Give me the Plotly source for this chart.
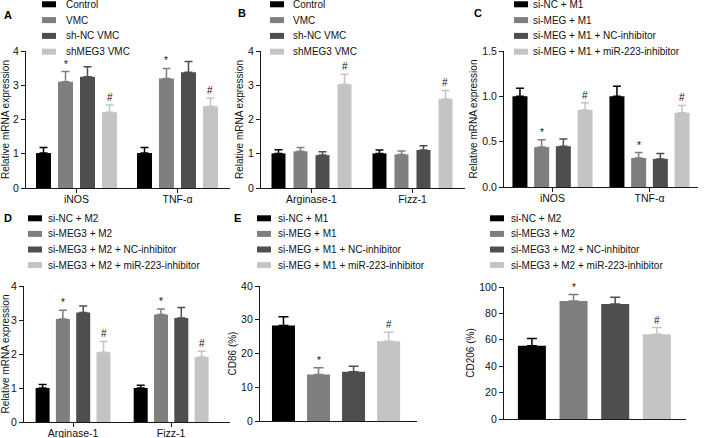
import plotly.graph_objects as go

W, H = 709, 438
FONT = "Arial, Liberation Sans, sans-serif"
COLORS = ["#000000", "#7f7f7f", "#4e4e4e", "#c4c4c4"]
AXIS_COLOR = "#1a1a1a"

# ---------------- data ----------------
# Panel A
a_cats = ["iNOS", "TNF-α"]
a_names = ["Control", "VMC", "sh-NC VMC", "shMEG3 VMC"]
a_vals = [[1.02, 1.02], [3.10, 3.20], [3.25, 3.38], [2.21, 2.39]]
a_errs = [[0.16, 0.16], [0.30, 0.29], [0.29, 0.31], [0.21, 0.24]]
a_marks = [["", ""], ["*", "*"], ["", ""], ["#", "#"]]

# Panel B
b_cats = ["Arginase-1", "Fizz-1"]
b_names = ["Control", "VMC", "sh-NC VMC", "shMEG3 VMC"]
b_vals = [[1.01, 1.01], [1.07, 0.98], [0.96, 1.11], [3.03, 2.60]]
b_errs = [[0.11, 0.10], [0.11, 0.10], [0.10, 0.12], [0.29, 0.25]]
b_marks = [["", ""], ["", ""], ["", ""], ["#", "#"]]

# Panel C
c_cats = ["iNOS", "TNF-α"]
c_names = ["si-NC + M1", "si-MEG + M1", "si-MEG + M1 + NC-inhibitor",
           "si-MEG + M1 + miR-223-inhibitor"]
c_vals = [[1.00, 1.00], [0.44, 0.32], [0.45, 0.31], [0.85, 0.82]]
c_errs = [[0.09, 0.11], [0.08, 0.06], [0.08, 0.06], [0.08, 0.08]]
c_marks = [["", ""], ["*", "*"], ["", ""], ["#", "#"]]

# Panel D
d_cats = ["Arginase-1", "Fizz-1"]
d_names = ["si-NC + M2", "si-MEG3 + M2", "si-MEG3 + M2 + NC-inhibitor",
           "si-MEG3 + M2 + miR-223-inhibitor"]
d_vals = [[1.00, 1.00], [3.03, 3.16], [3.22, 3.06], [2.05, 1.91]]
d_errs = [[0.10, 0.08], [0.26, 0.16], [0.19, 0.31], [0.32, 0.17]]
d_marks = [["", ""], ["*", "*"], ["", ""], ["#", "#"]]

# Panel E (CD86)
e_names = ["si-NC + M1", "si-MEG + M1", "si-MEG + M1 + NC-inhibitor",
           "si-MEG + M1 + miR-223-inhibitor"]
e_vals = [28.3, 13.8, 14.6, 23.6]
e_errs = [2.6, 2.0, 1.6, 2.7]
e_marks = ["", "*", "", "#"]

# Panel F (CD206)
f_names = ["si-NC + M2", "si-MEG3 + M2", "si-MEG3 + M2 + NC-inhibitor",
           "si-MEG3 + M2 + miR-223-inhibitor"]
f_vals = [55.5, 89.3, 87.2, 64.2]
f_errs = [5.5, 5.0, 5.0, 5.1]
f_marks = ["", "*", "", "#"]

# ---------------- helpers ----------------
def fx(px):
    return px / W


def fy(py):
    return 1 - py / H


fig = go.Figure()
annotations = []
shapes = []
layout = {}


def ax_id(n):
    return "" if n == 1 else str(n)


def axes(n, xdom, ydom, xrange, yrange, dtick, ytitle, standoff, cats,
         show_xticks=True, tickformat=None):
    s = ax_id(n)
    xa = dict(domain=[fx(xdom[0]), fx(xdom[1])], range=xrange,
              anchor=f"y{s}", showline=True, linecolor=AXIS_COLOR,
              linewidth=1.3, showgrid=False, zeroline=False,
              type="category", categoryorder="array", categoryarray=cats,
              ticks="outside" if show_xticks else "", ticklen=4,
              tickwidth=1.2, tickcolor=AXIS_COLOR,
              showticklabels=show_xticks, ticklabelstandoff=-3,
              tickfont=dict(size=10.5, family=FONT, color="#111"),
              fixedrange=True)
    ya = dict(domain=[fy(ydom[1]), fy(ydom[0])], range=yrange,
              anchor=f"x{s}", showline=True, linecolor=AXIS_COLOR,
              linewidth=1.3, showgrid=False, zeroline=False,
              dtick=dtick, tick0=0, ticks="outside", ticklen=4,
              tickwidth=1.2, tickcolor=AXIS_COLOR,
              tickfont=dict(size=10.5, family=FONT, color="#111"),
              title=dict(text=ytitle, standoff=standoff,
                         font=dict(size=10, family=FONT, color="#111")),
              fixedrange=True)
    if tickformat:
        ya["tickformat"] = tickformat
    layout[f"xaxis{s}"] = xa
    layout[f"yaxis{s}"] = ya


def legend(names, sw_x, text_x, row0, step):
    """Legend block: colour swatch + real text label per series."""
    for i, name in enumerate(names):
        yc = row0 + i * step
        shapes.append(dict(type="rect", xref="paper", yref="paper",
                           x0=fx(sw_x), x1=fx(sw_x + 14),
                           y0=fy(yc + 3), y1=fy(yc - 3),
                           fillcolor=COLORS[i], line=dict(width=0)))
        annotations.append(dict(x=fx(text_x - 2), y=fy(yc), xref="paper",
                                yref="paper", text=name, showarrow=False,
                                xanchor="left", yanchor="middle",
                                font=dict(size=10, family=FONT,
                                          color="#111")))


def grouped_panel(n, cats, names, vals, errs, marks, xdom, xrange,
                  bar_px, slot_px):
    ppu = (xdom[1] - xdom[0]) / (xrange[1] - xrange[0])
    wu = bar_px / ppu
    su = slot_px / ppu
    k = len(names)
    s = ax_id(n)
    for i, name in enumerate(names):
        off = (i - (k - 1) / 2) * su - wu / 2
        fig.add_trace(go.Bar(
            x=cats, y=vals[i], name=name, width=wu, offset=off,
            marker=dict(color=COLORS[i], line=dict(width=0)),
            error_y=dict(type="data", array=errs[i],
                         arrayminus=[0] * len(cats), symmetric=False,
                         color=COLORS[i], thickness=1.5, width=4),
            xaxis=f"x{s}", yaxis=f"y{s}", showlegend=False))
        for j in range(len(cats)):
            if marks[i][j]:
                annotations.append(dict(
                    x=j + off + wu / 2, y=vals[i][j] + errs[i][j],
                    xref=f"x{s}", yref=f"y{s}", text=marks[i][j],
                    showarrow=False, yanchor="bottom", yshift=0,
                    font=dict(size=10, family=FONT, color="#111")))


def single_panel(n, names, vals, errs, marks, xdom, xrange, bar_px):
    ppu = (xdom[1] - xdom[0]) / (xrange[1] - xrange[0])
    wu = bar_px / ppu
    s = ax_id(n)
    for i, name in enumerate(names):
        fig.add_trace(go.Bar(
            x=[name], y=[vals[i]], name=name, width=wu, offset=-wu / 2,
            marker=dict(color=COLORS[i], line=dict(width=0)),
            error_y=dict(type="data", array=[errs[i]], arrayminus=[0],
                         symmetric=False, color=COLORS[i], thickness=1.5,
                         width=5),
            xaxis=f"x{s}", yaxis=f"y{s}", showlegend=False))
        if marks[i]:
            annotations.append(dict(
                x=i, y=vals[i] + errs[i], xref=f"x{s}", yref=f"y{s}",
                text=marks[i], showarrow=False, yanchor="bottom",
                font=dict(size=10, family=FONT, color="#111")))


# ---------------- panels ----------------
# A
axes(1, (26, 230), (51, 188), [-0.5, 1.52], [0, 4], 1,
     "Relative mRNA expression", 2, a_cats)
grouped_panel(1, a_cats, a_names, a_vals, a_errs, a_marks, (26, 230),
              [-0.5, 1.52], 15, 22)
legend(a_names, 42, 66, 4.3, 15.8)

# B
axes(2, (261, 465), (51, 188), [-0.5, 1.52], [0, 4], 1,
     "Relative mRNA expression", 2, b_cats)
grouped_panel(2, b_cats, b_names, b_vals, b_errs, b_marks, (261, 465),
              [-0.5, 1.52], 14, 22)
legend(b_names, 270, 293, 4.3, 15.8)

# C
axes(3, (504, 698), (51, 187), [-0.5, 1.5], [0, 1.5], 0.5,
     "Relative mRNA expression", 2, c_cats, tickformat=".1f")
grouped_panel(3, c_cats, c_names, c_vals, c_errs, c_marks, (504, 698),
              [-0.5, 1.5], 15, 21.7)
legend(c_names, 514, 533, 4.3, 15.8)

# D
axes(4, (24, 230), (286, 422), [-0.5, 1.6], [0, 4], 1,
     "Relative mRNA expression", 2, d_cats)
grouped_panel(4, d_cats, d_names, d_vals, d_errs, d_marks, (24, 230),
              [-0.5, 1.6], 14, 20.3)
legend(d_names, 28, 48, 218.3, 15.6)

# E
axes(5, (260, 417), (286, 421), [-0.67, 3.81], [0, 40], 10,
     "CD86 (%)", 2, e_names, show_xticks=False)
single_panel(5, e_names, e_vals, e_errs, e_marks, (260, 417),
             [-0.67, 3.81], 23)
legend(e_names, 257, 278, 218.3, 15.6)

# F
axes(6, (504, 686), (287, 419), [-0.67, 3.7], [0, 100], 20,
     "CD206 (%)", 2, f_names, show_xticks=False)
single_panel(6, f_names, f_vals, f_errs, f_marks, (504, 686),
             [-0.67, 3.7], 28)
legend(f_names, 490, 511, 218.3, 15.6)

# panel letters
for letter, (lx, ly) in {"A": (8, 15), "B": (242, 13), "C": (478, 13),
                         "D": (8, 218), "E": (238, 218)}.items():
    annotations.append(dict(x=fx(lx), y=fy(ly), xref="paper", yref="paper",
                            text=f"<b>{letter}</b>", showarrow=False,
                            xanchor="center", yanchor="middle",
                            font=dict(size=11, family=FONT, color="#000")))

fig.update_layout(
    width=W, height=H,
    margin=dict(l=0, r=0, t=0, b=0, autoexpand=False),
    paper_bgcolor="white", plot_bgcolor="white",
    barmode="overlay", annotations=annotations, shapes=shapes,
    showlegend=False,
    font=dict(family=FONT, size=10, color="#111"),
    **layout)

# remove the browser's default 8px body margin so the figure fills the window
fig.write_html(
    "out.html",
    config={"displayModeBar": False},
    post_script="document.body.style.margin='0';"
                "document.body.style.overflow='hidden';")
